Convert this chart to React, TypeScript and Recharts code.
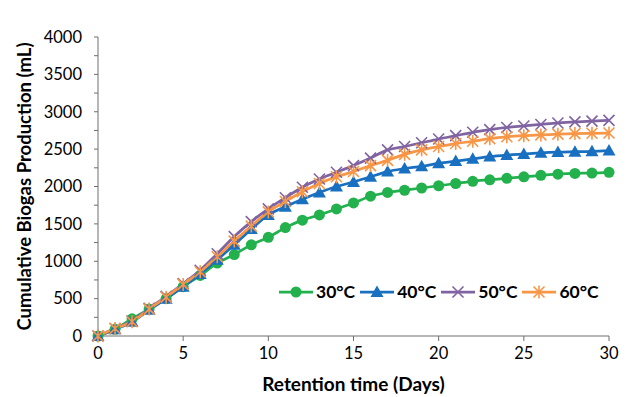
import { LineChart, Line, XAxis, YAxis, Legend } from "recharts";

const days = [0, 1, 2, 3, 4, 5, 6, 7, 8, 9, 10, 11, 12, 13, 14, 15, 16, 17, 18, 19, 20, 21, 22, 23, 24, 25, 26, 27, 28, 29, 30];
const temp30 = [0, 90, 230, 360, 500, 660, 810, 975, 1090, 1220, 1320, 1450, 1550, 1620, 1700, 1780, 1870, 1920, 1950, 1980, 2010, 2040, 2070, 2090, 2110, 2130, 2150, 2165, 2175, 2180, 2190];
const temp40 = [0, 90, 190, 350, 500, 660, 830, 1020, 1220, 1430, 1620, 1730, 1830, 1920, 2000, 2060, 2130, 2200, 2240, 2270, 2310, 2340, 2370, 2400, 2420, 2435, 2450, 2460, 2465, 2470, 2480];
const temp50 = [0, 100, 200, 370, 530, 700, 880, 1100, 1330, 1530, 1700, 1850, 1990, 2100, 2190, 2280, 2380, 2490, 2535, 2585, 2635, 2680, 2725, 2760, 2790, 2810, 2830, 2850, 2865, 2875, 2885];
const temp60 = [0, 100, 190, 360, 520, 690, 860, 1060, 1270, 1470, 1660, 1800, 1930, 2040, 2130, 2200, 2280, 2350, 2430, 2490, 2535, 2575, 2605, 2640, 2665, 2680, 2690, 2700, 2708, 2712, 2715];

const xTicks = [0, 5, 10, 15, 20, 25, 30];
const yTicks = [0, 250, 500, 750, 1000, 1250, 1500, 1750, 2000, 2250, 2500, 2750, 3000, 3250, 3500, 3750, 4000];

const data = days.map((d, i) => ({
  day: d,
  t30: temp30[i],
  t40: temp40[i],
  t50: temp50[i],
  t60: temp60[i],
}));

const GREEN = "#22B14C";
const BLUE = "#1A70C0";
const PURPLE = "#8064A2";
const ORANGE = "#F79646";
const AXIS = "#6f6f6f";
const FONT = "Lato, 'Open Sans', sans-serif";

function circleMark(cx: number, cy: number, key?: any) {
  return <circle key={key} cx={cx} cy={cy} r={5.5} fill={GREEN} stroke="none" />;
}
function triMark(cx: number, cy: number, key?: any) {
  return (
    <path
      key={key}
      d={`M${cx},${cy - 6.5} L${cx + 6.5},${cy + 5} L${cx - 6.5},${cy + 5} Z`}
      fill={BLUE}
      stroke="none"
    />
  );
}
function crossMark(cx: number, cy: number, key?: any) {
  const s = 5.5;
  return (
    <path
      key={key}
      d={`M${cx - s},${cy - s} L${cx + s},${cy + s} M${cx - s},${cy + s} L${cx + s},${cy - s}`}
      stroke={PURPLE}
      strokeWidth={1.6}
      fill="none"
    />
  );
}
function starMark(cx: number, cy: number, key?: any) {
  const s = 5.5;
  return (
    <path
      key={key}
      d={`M${cx - s},${cy - s} L${cx + s},${cy + s} M${cx - s},${cy + s} L${cx + s},${cy - s} M${cx},${cy - s - 1} L${cx},${cy + s + 1}`}
      stroke={ORANGE}
      strokeWidth={1.6}
      fill="none"
    />
  );
}

const series = [
  { key: "t30", name: "30°C", color: GREEN, mark: circleMark },
  { key: "t40", name: "40°C", color: BLUE, mark: triMark },
  { key: "t50", name: "50°C", color: PURPLE, mark: crossMark },
  { key: "t60", name: "60°C", color: ORANGE, mark: starMark },
];

function LegendBox() {
  return (
    <div style={{ display: "flex", alignItems: "center", fontFamily: FONT, fontWeight: 700, fontSize: 17.5 }}>
      {series.map((s) => (
        <div key={s.key} style={{ display: "flex", alignItems: "center", marginRight: 5 }}>
          <svg width={34} height={14}>
            <line x1={0} y1={7} x2={34} y2={7} stroke={s.color} strokeWidth={2.75} />
            {s.mark(17, 7)}
          </svg>
          <span style={{ marginLeft: 3, color: "#000" }}>{s.name}</span>
        </div>
      ))}
    </div>
  );
}

function YTitle(props: any) {
  const { viewBox } = props;
  const x = viewBox.x + 24;
  const y = viewBox.y + viewBox.height / 2;
  return (
    <text
      x={x}
      y={y}
      transform={`rotate(-90, ${x}, ${y})`}
      textAnchor="middle"
      dominantBaseline="central"
      fontFamily={FONT}
      fontWeight={700}
      fontSize={18.5}
      fill="#000"
    >
      Cumulative Biogas Production (mL)
    </text>
  );
}

function XTitle(props: any) {
  const { viewBox } = props;
  return (
    <text
      x={viewBox.x + viewBox.width / 2}
      y={viewBox.y + 55}
      textAnchor="middle"
      fontFamily={FONT}
      fontWeight={700}
      fontSize={19}
      fill="#000"
    >
      Retention time (Days)
    </text>
  );
}

export default function App() {
  return (
    <div style={{ position: "absolute", left: 0, top: 0, background: "#fff" }}>
      <LineChart
        width={630}
        height={397}
        data={data}
        margin={{ top: 16, right: 21, bottom: 0, left: 0 }}
      >
        <XAxis
          dataKey="day"
          type="number"
          domain={[0, 30]}
          ticks={xTicks}
          interval={0}
          height={61}
          stroke={AXIS}
          tickSize={5}
          tickMargin={6}
          tick={{ fill: "#000", fontFamily: FONT, fontSize: 16.5 }}
          label={<XTitle />}
        />
        <YAxis
          type="number"
          domain={[0, 4000]}
          ticks={yTicks}
          interval={0}
          width={98}
          stroke={AXIS}
          tickSize={4}
          tickMargin={12}
          tickFormatter={(v: number) => (v % 500 === 0 ? String(v) : "")}
          tick={{ fill: "#000", fontFamily: FONT, fontSize: 16.5 }}
          label={<YTitle />}
        />
        <Legend
          verticalAlign="top"
          content={<LegendBox />}
          wrapperStyle={{ position: "absolute", left: 279, top: 281, width: 340 }}
        />
        {series.map((s) => (
          <Line
            key={s.key}
            type="monotone"
            dataKey={s.key}
            name={s.name}
            stroke={s.color}
            strokeWidth={2.75}
            isAnimationActive={false}
            dot={(p: any) => s.mark(p.cx, p.cy, `${s.key}-${p.index}`)}
            activeDot={false}
          />
        ))}
      </LineChart>
    </div>
  );
}
